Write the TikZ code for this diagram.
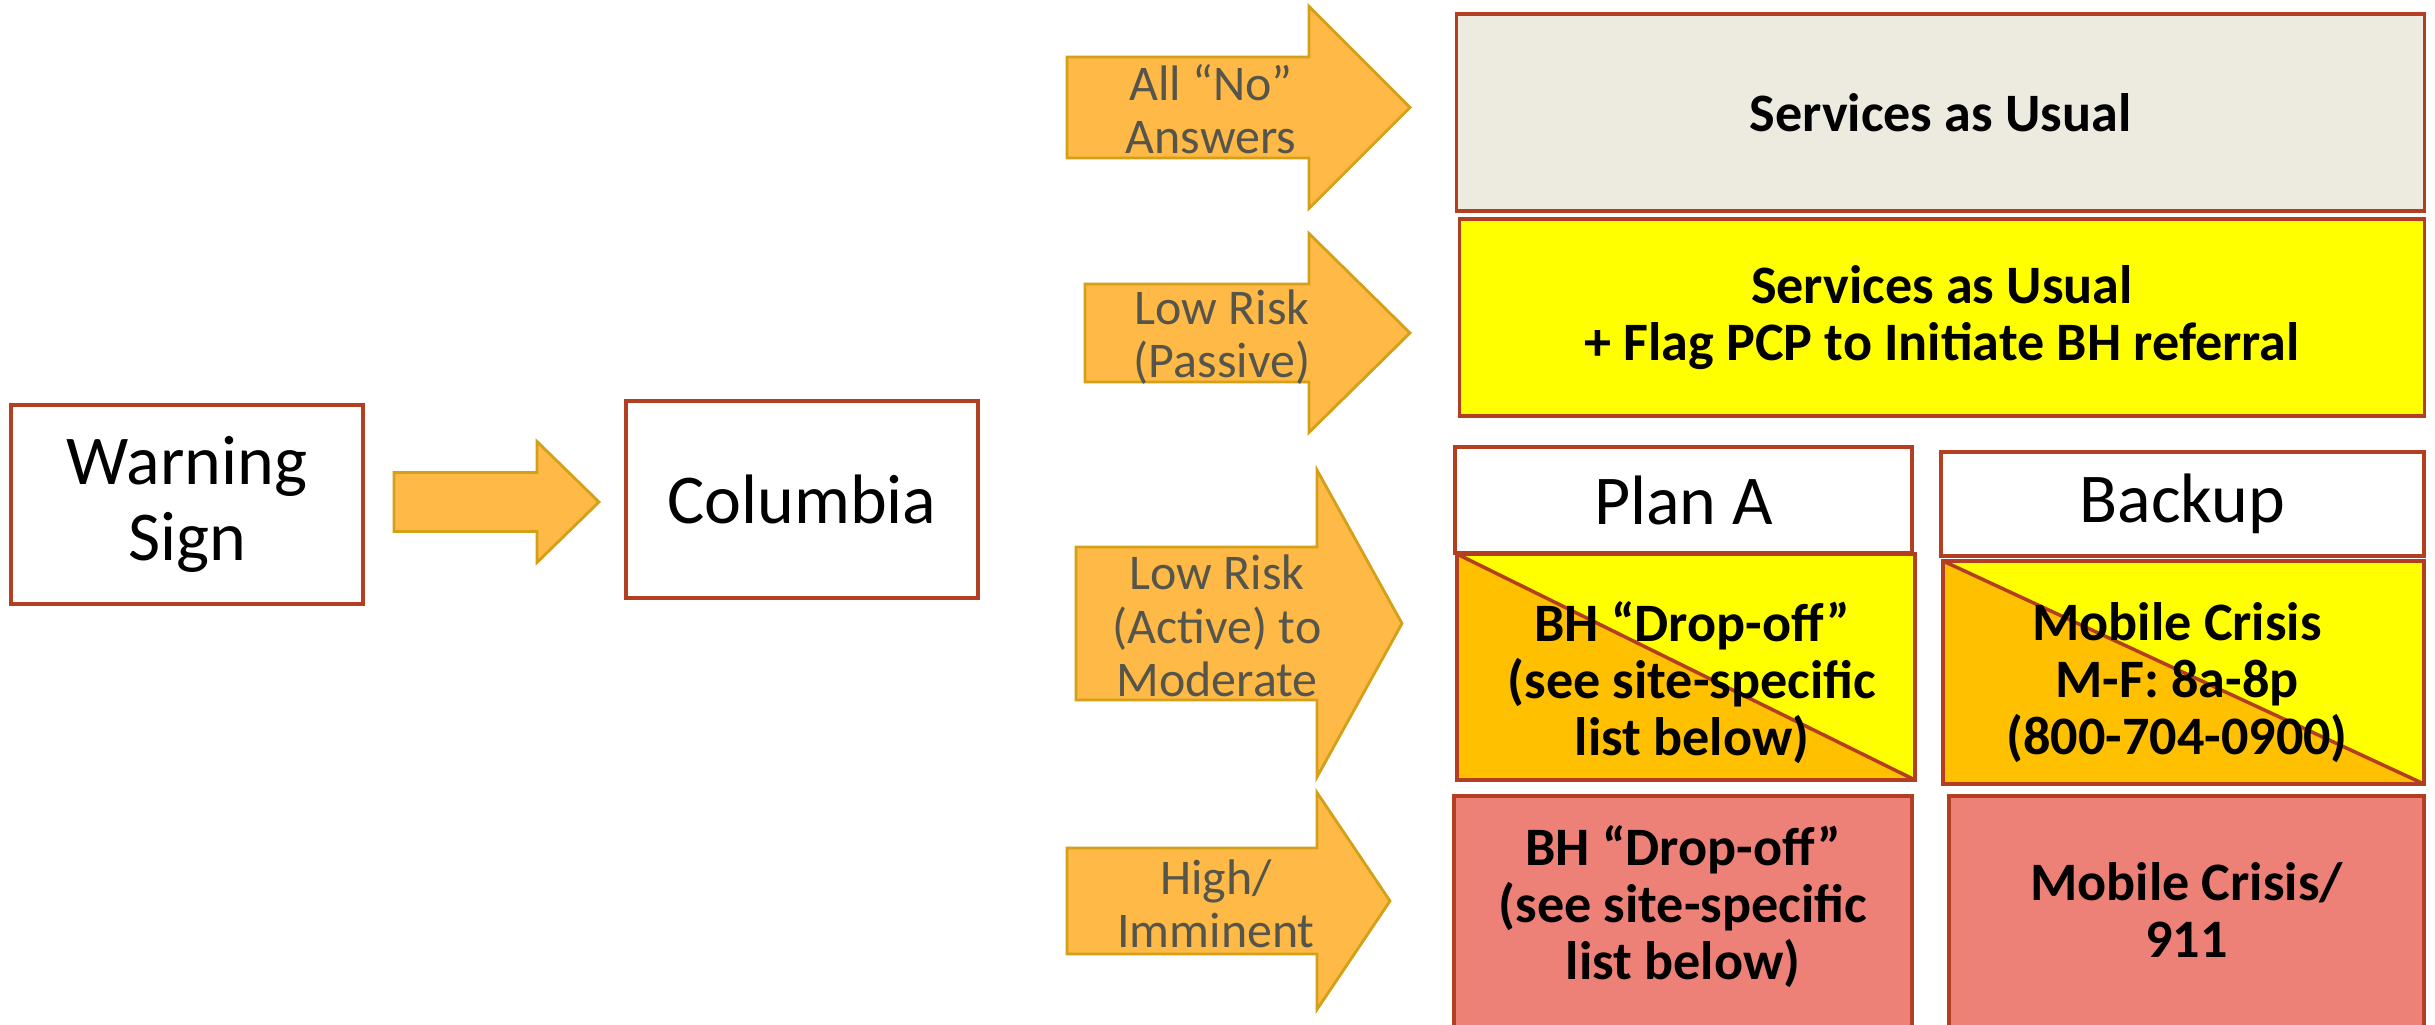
\documentclass[tikz,border=0pt]{standalone}
\usepackage{fontspec}
\setmainfont{Carlito}
\usepackage{tikz}
\usetikzlibrary{calc}
\usepackage{xcolor}

\definecolor{boxred}{RGB}{180,62,34}
\definecolor{arrowfill}{RGB}{255,185,70}
\definecolor{arrowline}{RGB}{212,160,23}
\definecolor{usualbg}{RGB}{237,234,224}
\definecolor{flagyellow}{RGB}{255,255,0}
\definecolor{dropamber}{RGB}{255,192,0}
\definecolor{crisisred}{RGB}{237,128,119}
\definecolor{arrowtext}{RGB}{85,85,75}

\tikzset{
    box/.style={draw=boxred, line width=1pt, inner sep=0pt},
    bigtext/.style={font=\fontsize{19.9}{21.6}\selectfont, align=center},
    boldtext/.style={font=\bfseries\fontsize{15.4}{16.2}\selectfont, align=center},
    arrowlabel/.style={font=\fontsize{14.2}{15.2}\selectfont, text=arrowtext, align=center},
    blockarrow/.style={fill=arrowfill, draw=arrowline, line width=0.8pt, line join=miter},
    split/.style={path picture={
        \fill[dropamber] (path picture bounding box.north west) -- (path picture bounding box.south west)
            -- (path picture bounding box.south east) -- cycle;
        \draw[boxred, line width=1pt] (path picture bounding box.north west) -- (path picture bounding box.south east);
    }},
}

% tail x, neck x, tip x, mid y, half shaft, half head
\newcommand{\blockarrow}[6]{%
    \draw[blockarrow] (#1,#4-#5) -- (#2,#4-#5) -- (#2,#4-#6) -- (#3,#4)
        -- (#2,#4+#6) -- (#2,#4+#5) -- (#1,#4+#5) -- cycle;}

\begin{document}
\begin{tikzpicture}[x=0.01cm, y=-0.01cm]
    \useasboundingbox (0,0) rectangle (2435,1025);

    \node[box, bigtext, minimum width=3.52cm, minimum height=1.99cm] (warn) at (187,504.5) {Warning\\Sign};
    \node[box, bigtext, minimum width=3.52cm, minimum height=1.97cm] (colum) at (802,499.5) {Columbia};
    \blockarrow{394}{537}{599}{502}{29.5}{60.5}

    \foreach \tail/\neck/\tip/\ym/\sh/\hh/\lx/\ly/\nm/\txt in {
        1067/1309/1410/107.5/50.5/101/1211/109/nolbl/{All “No”\\Answers},
        1085/1309/1410/333/49/99.5/1222/337/passlbl/{Low Risk\\(Passive)},
        1076/1317/1402/623.5/76.5/153.5/1217/626/actlbl/{Low Risk\\(Active) to\\Moderate},
        1067/1317/1390/901/53/108.5/1216/904/highlbl/{High/\\Imminent}}
    {
        \blockarrow{\tail}{\neck}{\tip}{\ym}{\sh}{\hh}
        \node[arrowlabel] (\nm) at (\lx,\ly) {\txt};
    }

    \node[box, fill=usualbg, boldtext, minimum width=9.67cm, minimum height=1.97cm] (usual) at (1940.5,112.5) {Services as Usual};
    \node[box, fill=flagyellow, boldtext, minimum width=9.64cm, minimum height=1.97cm] (flag) at (1942,317.5)
        {Services as Usual\\+ Flag PCP to Initiate BH referral};

    \node[box, fill=white, bigtext, minimum width=4.57cm, minimum height=1.06cm] (plana) at (1683.5,500) {Plan A};
    \node[box, fill=white, bigtext, minimum width=4.83cm, minimum height=1.04cm] (backup) at (2182.5,504) {Backup};
    \node[box, fill=flagyellow, split, minimum width=4.58cm, minimum height=2.26cm] (dropA) at (1686,667) {};
    \node[boldtext] (dropAtxt) at (1692,683) {BH “Drop-off”\\(see site-specific\\list below)};
    \node[box, fill=flagyellow, split, minimum width=4.81cm, minimum height=2.23cm] (mobA) at (2183.5,672.5) {};
    \node[boldtext] (mobAtxt) at (2177,683) {Mobile Crisis\\M-F: 8a-8p\\(800-704-0900)};

    \node[box, fill=crisisred, minimum width=4.58cm, minimum height=2.6cm, anchor=north] (dropB) at (1683,794) {};
    \node[boldtext] (dropBtxt) at (1683,907) {BH “Drop-off”\\(see site-specific\\list below)};
    \node[box, fill=crisisred, minimum width=4.75cm, minimum height=2.6cm, anchor=north] (mobB) at (2186.5,794) {};
    \node[boldtext] (mobBtxt) at (2186.5,910) {Mobile Crisis/\\911};
\end{tikzpicture}
\end{document}
